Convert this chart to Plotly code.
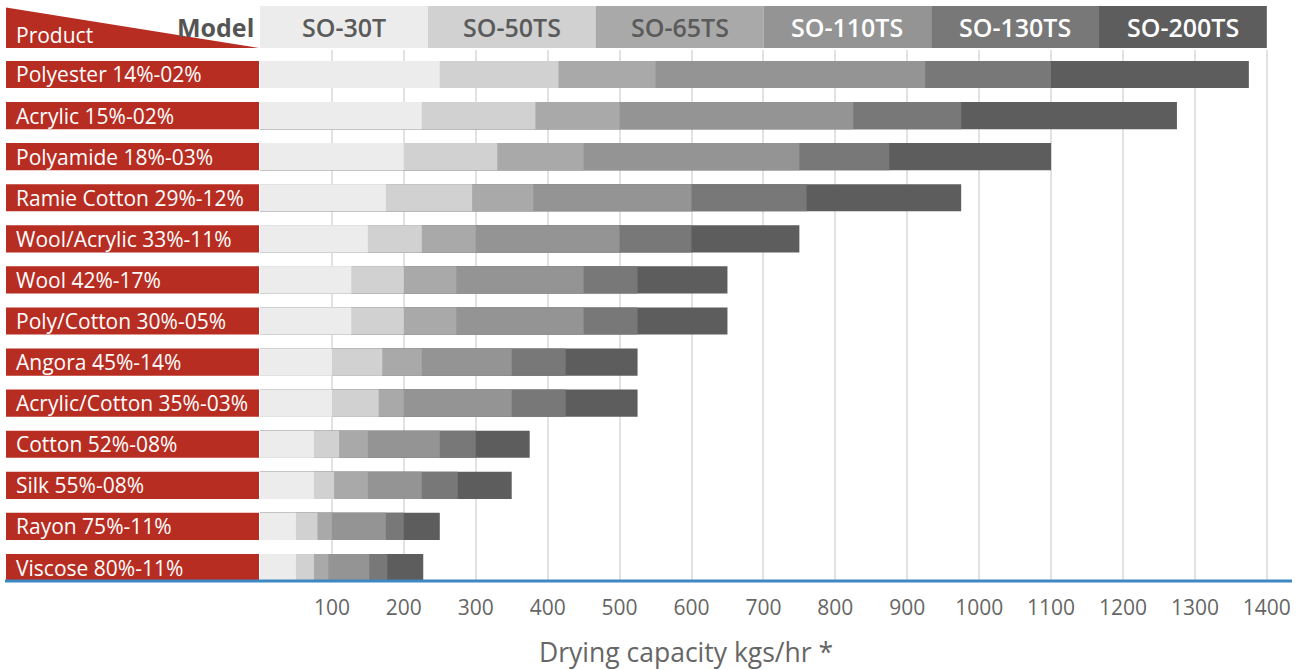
import plotly.graph_objects as go

# ---------------- data ----------------
products = [
    "Polyester 14%-02%", "Acrylic 15%-02%", "Polyamide 18%-03%",
    "Ramie Cotton 29%-12%", "Wool/Acrylic 33%-11%", "Wool 42%-17%",
    "Poly/Cotton 30%-05%", "Angora 45%-14%", "Acrylic/Cotton 35%-03%",
    "Cotton 52%-08%", "Silk 55%-08%", "Rayon 75%-11%", "Viscose 80%-11%",
]
models = ["SO-30T", "SO-50TS", "SO-65TS", "SO-110TS", "SO-130TS", "SO-200TS"]

# drying capacity (kgs/hr) per model, per product
so30t = [250, 225, 200, 175, 150, 127, 127, 100, 100, 75, 75, 50, 50]
so50ts = [415, 383, 330, 295, 225, 200, 200, 170, 165, 110, 103, 80, 75]
so65ts = [550, 500, 450, 380, 300, 273, 273, 225, 200, 150, 150, 100, 95]
so110ts = [925, 825, 750, 600, 500, 450, 450, 350, 350, 250, 225, 175, 152]
so130ts = [1100, 975, 875, 760, 600, 525, 525, 425, 425, 300, 275, 200, 177]
so200ts = [1375, 1275, 1100, 975, 750, 650, 650, 525, 525, 375, 350, 250, 227]

x_ticks = [100, 200, 300, 400, 500, 600, 700, 800, 900, 1000, 1100, 1200, 1300, 1400]
x_title = "Drying capacity kgs/hr *"
corner_left = "Product"
corner_right = "Model"

# ---------------- styles ----------------
bar_colors = ["#EBECEB", "#D0D1D0", "#A9A9A9", "#949494", "#787878", "#5D5D5D"]
head_text_colors = ["#5A5A5A", "#5A5A5A", "#5A5A5A", "#FFFFFF", "#FFFFFF", "#FFFFFF"]
RED = "#B82D22"
BLUE = "#3D88C2"
FONT = "Open Sans"

X_MAX = 1435
HEAD_SPAN = 1400
W, H = 1305, 670
ML, MR, MT, MB = 260, 13, 50, 89
PW = W - ML - MR
PH = H - MT - MB


def px_x(px):
    return (px - ML) / PW


def px_y(py):
    return (H - MB - py) / PH


n = len(products)
ypos = [n - 1 - i for i in range(n)]
series = [so30t, so50ts, so65ts, so110ts, so130ts, so200ts]

fig = go.Figure()
for name, vals, col in reversed(list(zip(models, series, bar_colors))):
    fig.add_trace(go.Bar(
        x=vals, y=ypos, orientation="h", name=name, base=0,
        width=0.66, marker=dict(color=col, line=dict(width=0)),
        hovertemplate="%{x}<extra>" + name + "</extra>",
    ))

shapes = []
annotations = []

# product label boxes
for p, y in zip(products, ypos):
    shapes.append(dict(type="rect", xref="paper", yref="y",
                       x0=px_x(6), x1=px_x(259), y0=y - 0.33, y1=y + 0.33,
                       fillcolor=RED, line=dict(width=0), layer="above"))
    annotations.append(dict(text=p, xref="paper", yref="y", x=px_x(14), y=y,
                            xanchor="left", yanchor="middle", showarrow=False,
                            font=dict(family=FONT, size=21, color="white")))

# header cells
cell = HEAD_SPAN / len(models)
for i, (m, col, tcol) in enumerate(zip(models, bar_colors, head_text_colors)):
    shapes.append(dict(type="rect", xref="paper", yref="paper",
                       x0=i * cell / X_MAX, x1=(i + 1) * cell / X_MAX,
                       y0=px_y(48), y1=px_y(6),
                       fillcolor=col, line=dict(width=0), layer="above"))
    annotations.append(dict(text=m, xref="paper", yref="paper",
                            x=(i + 0.5) * cell / X_MAX, y=px_y(27),
                            xanchor="center", yanchor="middle", showarrow=False,
                            font=dict(family=FONT, size=25, weight=600, color=tcol)))

# corner triangle
shapes.append(dict(type="path", xref="paper", yref="paper",
                   path=f"M {px_x(6)},{px_y(48)} L {px_x(6)},{px_y(7.5)} L {px_x(259)},{px_y(48)} Z",
                   fillcolor=RED, line=dict(width=0), layer="above"))
annotations.append(dict(text=corner_left, xref="paper", yref="paper",
                        x=px_x(14), y=px_y(35), xanchor="left", yanchor="middle",
                        showarrow=False, font=dict(family=FONT, size=21, color="white")))
annotations.append(dict(text=corner_right, xref="paper", yref="paper",
                        x=px_x(256), y=px_y(27), xanchor="right", yanchor="middle",
                        showarrow=False, font=dict(family=FONT, size=25, weight=700, color="#555555")))

# baseline
shapes.append(dict(type="line", xref="paper", yref="paper",
                   x0=px_x(5), x1=1, y0=0, y1=0,
                   line=dict(color=BLUE, width=3), layer="above"))

# axis title
annotations.append(dict(text=x_title, xref="paper", yref="paper",
                        x=px_x(686), y=px_y(652), xanchor="center", yanchor="middle",
                        showarrow=False, font=dict(family=FONT, size=26.5, color="#666666")))

fig.update_layout(
    width=W, height=H,
    margin=dict(l=ML, r=MR, t=MT, b=MB, pad=0),
    barmode="overlay",
    showlegend=False,
    plot_bgcolor="white", paper_bgcolor="white",
    font=dict(family=FONT),
    shapes=shapes, annotations=annotations,
    xaxis=dict(range=[0, X_MAX], tickvals=x_ticks, showgrid=True,
               gridcolor="#E2E2E2", gridwidth=2, zeroline=False, showline=False,
               ticks="", tickfont=dict(family=FONT, size=21, color="#666666"),
               ticklabelstandoff=12, fixedrange=True),
    yaxis=dict(range=[-0.3286, 12.596], showticklabels=False, showgrid=False,
               zeroline=False, showline=False, fixedrange=True),
)

fig.write_html("out.html", config={"displayModeBar": False},
               post_script="document.body.style.margin='0px';")
